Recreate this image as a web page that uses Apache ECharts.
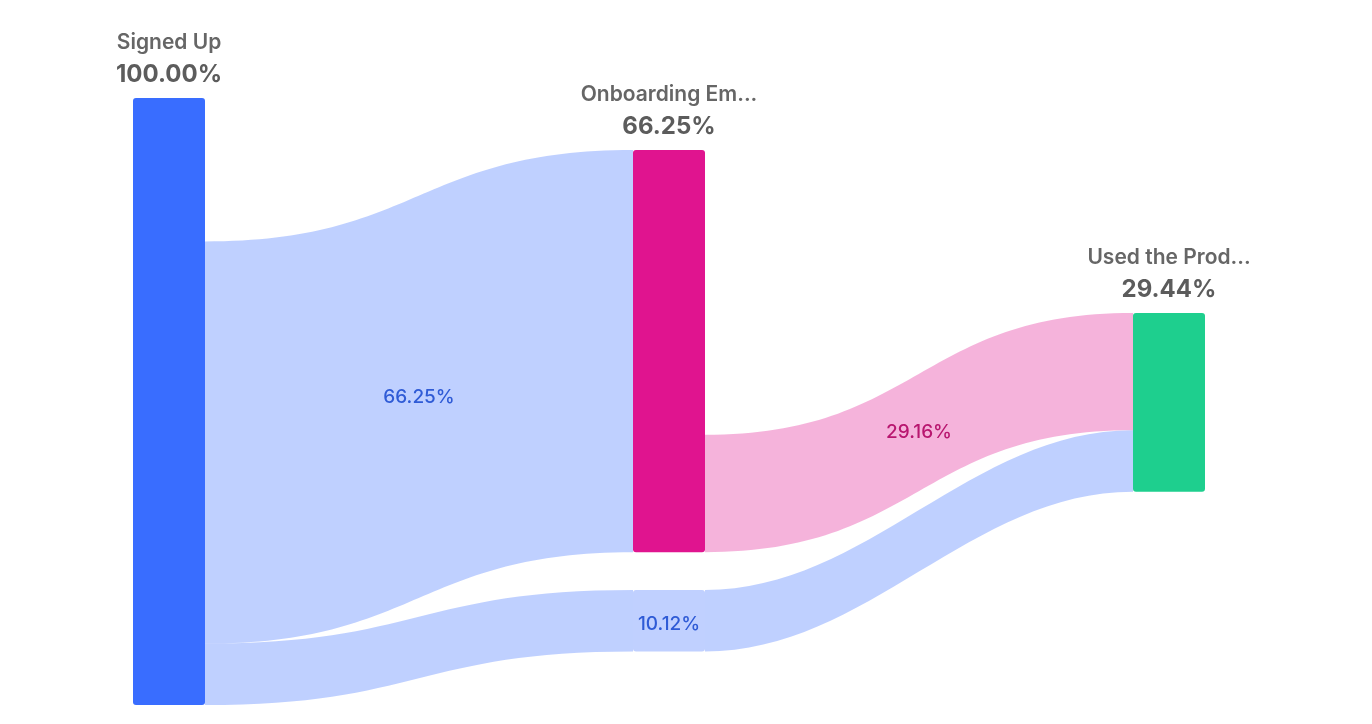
<!DOCTYPE html>
<html><head><meta charset="utf-8">
<script src="https://cdn.jsdelivr.net/npm/echarts@6/dist/echarts.min.js"></script>
<style>html,body{margin:0;padding:0;background:#fff}#chart{width:1372px;height:724px}</style>
</head><body><div id="chart"></div>
<script>
// ---- data ----
const stepNames = ['Signed Up', 'Onboarding Em...', 'Used the Prod...'];
const stepValues = [100, 66.25, 29.44];          // % of users reaching each step
const flowFrom = [0, 1, 0];                      // flow source step
const flowTo = [1, 2, 2];                        // flow target step
const flowValues = [66.25, 19.32, 10.12];        // % of all users in each flow

// ---- styles / layout ----
const stepColors = ['#396dff', '#e0148f', '#1ecf8e'];
const skipBandColor = '#c0d0ff';
const flowLabelColors = ['#2f5bd6', '#b8166f'];
const FONT = 'Inter, "Noto Sans", sans-serif';
const area = { left: 133, top: 98, width: 1072, height: 607 };
// vertical offset of node tops, as a fraction of the plot height
const nodeTopFrac = { 1: 52 / 607, 2: 215 / 607, skip: 492 / 607 };

const nodes = [];
const links = [];
const pct = v => v.toFixed(2) + '%';

// step 0
nodes.push({ name: stepNames[0], value: stepValues[0], depth: 0,
  itemStyle: { color: stepColors[0] } });
// hidden drop-off after step 0
const out0 = flowValues.filter((v, i) => flowFrom[i] === 0).reduce((a, b) => a + b, 0);
nodes.push({ name: 'drop0', value: stepValues[0] - out0, depth: 1, hidden: true,
  itemStyle: { opacity: 0 }, label: { show: false } });
// step 1
nodes.push({ name: stepNames[1], value: stepValues[1], depth: 1,
  localY: nodeTopFrac[1], itemStyle: { color: stepColors[1] } });
// pass-through node for the skip flow (step 0 -> step 2)
const skipIdx = flowFrom.findIndex((f, i) => f === 0 && flowTo[i] === 2);
nodes.push({ name: 'skip', value: flowValues[skipIdx], depth: 1, hidden: true, localY: nodeTopFrac.skip,
  itemStyle: { color: skipBandColor, opacity: 1 },
  label: { show: true, position: 'inside', offset: [0, 4],
    formatter: () => pct(flowValues[skipIdx] / stepValues[0] * 100),
    color: flowLabelColors[0], fontSize: 19, fontWeight: 500, fontFamily: FONT } });
// hidden drop-off after step 1
const out1 = flowValues.filter((v, i) => flowFrom[i] === 1).reduce((a, b) => a + b, 0);
nodes.push({ name: 'drop1', value: stepValues[1] - out1, depth: 2, hidden: true,
  itemStyle: { opacity: 0 }, label: { show: false } });
// step 2
nodes.push({ name: stepNames[2], value: stepValues[2], depth: 2,
  localY: nodeTopFrac[2], itemStyle: { color: stepColors[2] } });

// links
links.push({ source: stepNames[0], target: 'drop0', value: stepValues[0] - out0, lineStyle: { opacity: 0 } });
links.push({ source: stepNames[1], target: 'drop1', value: stepValues[1] - out1, lineStyle: { opacity: 0 } });
flowValues.forEach((v, i) => {
  if (i === skipIdx) return;
  links.push({ source: stepNames[flowFrom[i]], target: stepNames[flowTo[i]], value: v,
    txt: pct(v / stepValues[flowFrom[i]] * 100), ci: flowFrom[i] });
});
links.push({ source: stepNames[0], target: 'skip', value: flowValues[skipIdx],
  lineStyle: { curveness: 0.5 } });
links.push({ source: 'skip', target: stepNames[2], value: flowValues[skipIdx],
  lineStyle: { color: stepColors[0], curveness: 0.38 } });

const chart = echarts.init(document.getElementById('chart'));
chart.setOption({
  backgroundColor: '#ffffff',
  animation: false,
  series: [{
    type: 'sankey',
    left: area.left, top: area.top, width: area.width, height: area.height,
    nodeWidth: 72,
    nodeGap: 0,
    nodeAlign: 'left',
    layoutIterations: 0,
    draggable: false,
    silent: true,
    emphasis: { disabled: true },
    data: nodes,
    links: links,
    itemStyle: { borderWidth: 0, borderRadius: 3 },
    lineStyle: { color: 'source', opacity: 0.32, curveness: 0.5 },
    label: {
      show: true,
      position: 'top',
      distance: 7,
      formatter: p => p.data.hidden ? '' : `{n|${p.name}}\n{v|${pct(p.data.value)}}`,
      rich: {
        n: { fontFamily: FONT, fontSize: 21, fontWeight: 600, color: '#666666', lineHeight: 31, align: 'center' },
        v: { fontFamily: FONT, fontSize: 24, fontWeight: 700, color: '#5c5c5c', lineHeight: 33, align: 'center' }
      }
    },
    edgeLabel: {
      show: true,
      formatter: p => p.data.txt ? `{c${p.data.ci}|${p.data.txt}}` : '',
      rich: {
        c0: { fontFamily: FONT, fontSize: 19, fontWeight: 500, color: flowLabelColors[0] },
        c1: { fontFamily: FONT, fontSize: 19, fontWeight: 500, color: flowLabelColors[1] }
      }
    }
  }]
});
</script>
</body></html>
